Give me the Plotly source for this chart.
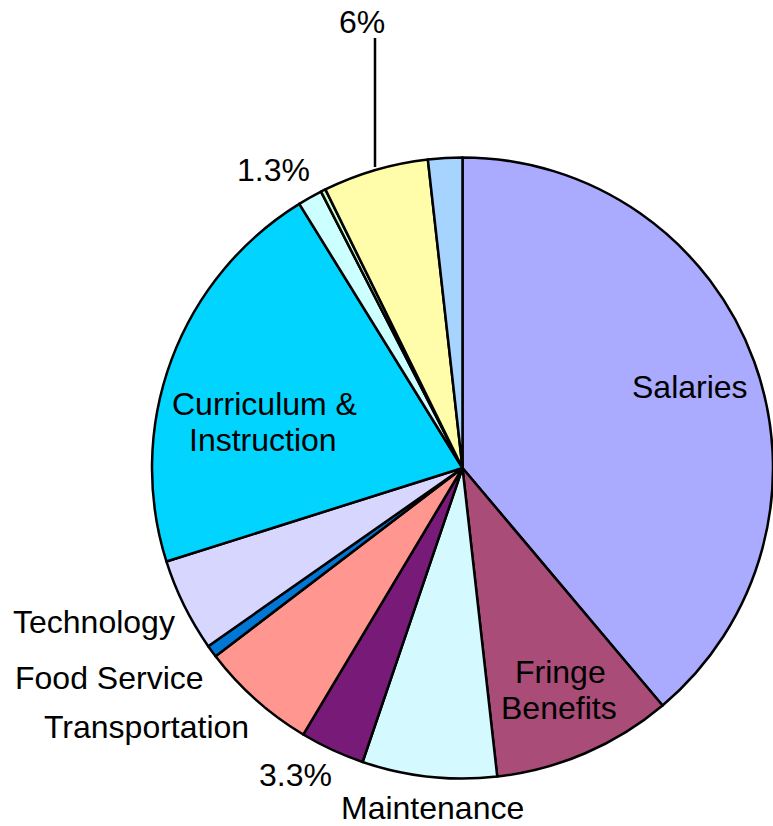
import plotly.graph_objects as go

W, H = 773, 826

# Slice data (clockwise from 12 o'clock), values in percent
categories = ["Salaries", "Fringe Benefits", "Maintenance", "Slice 3.3%", "Transportation",
              "Food Service", "Technology", "Curriculum & Instruction", "Slice 1.3%",
              "Slice minor", "Slice 6%", "Slice light blue"]
values = [38.86, 9.36, 7.0, 3.36, 6.06, 0.64, 4.86, 21.06, 1.28, 0.25, 5.5, 1.78]
colors = ["#AAAAFF", "#A94C77", "#D4FAFF", "#781A78", "#FF968F", "#0077D4",
          "#D6D6FF", "#00D4FF", "#CCFFFF", "#CCFFCC", "#FFFCAA", "#A6D4FF"]

# Label texts and their pixel anchor positions (layout only)
label_texts = ["6%", "1.3%", "Salaries", "Curriculum &amp;", "Instruction", "Fringe", "Benefits",
               "Technology", "Food Service", "Transportation", "3.3%", "Maintenance"]
label_px = [(362, 22), (273, 170), (690, 387), (264, 404), (263, 440), (560, 672), (559, 708),
            (94, 622), (109, 678), (146, 727), (295, 775), (432, 808)]

cx, cy, r = 463, 468, 311

fig = go.Figure(go.Pie(
    labels=categories,
    values=values,
    sort=False,
    direction="clockwise",
    rotation=0,
    marker=dict(colors=colors, line=dict(color="black", width=2.5)),
    textinfo="none",
    hoverinfo="label+percent",
    showlegend=False,
    domain=dict(x=[(cx - r) / W, 1.0], y=[(H - (cy + r)) / H, (H - (cy - r)) / H]),
))

annotations = []
for t, (px, py) in zip(label_texts, label_px):
    annotations.append(dict(
        x=px / W, y=1 - py / H, xref="paper", yref="paper",
        text=t, showarrow=False, xanchor="center", yanchor="middle",
        font=dict(family="Liberation Sans, Arial, sans-serif", size=32, color="black"),
    ))

fig.update_layout(
    width=W, height=H,
    margin=dict(l=0, r=0, t=0, b=0),
    paper_bgcolor="white", plot_bgcolor="white",
    annotations=annotations,
    shapes=[dict(type="line", xref="paper", yref="paper",
                 x0=375 / W, x1=375 / W, y0=1 - 38 / H, y1=1 - 167 / H,
                 line=dict(color="black", width=2.5))],
)

fig.write_html("out.html", config={"displayModeBar": False},
               post_script="document.body.style.margin='0';document.body.style.padding='0';")
